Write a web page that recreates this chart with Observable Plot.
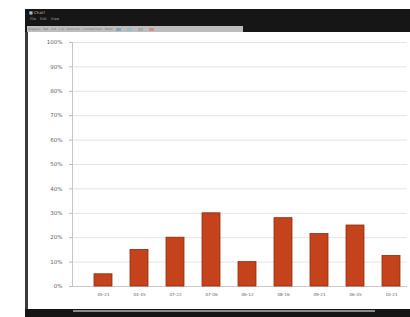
<!DOCTYPE html>
<html><head><meta charset="utf-8">
<script src="https://cdn.jsdelivr.net/npm/d3@7"></script>
<script src="https://cdn.jsdelivr.net/npm/@observablehq/plot@0.6"></script>
<style>
html,body{margin:0;padding:0;width:410px;height:317px;overflow:hidden;background:#fff;font-family:"DejaVu Sans",sans-serif}
#win{position:absolute;left:25px;top:9px;width:385px;height:308px;background:#fff;border-left:3px solid #3a3a3a;box-sizing:border-box}
#titlebar{position:absolute;left:25px;top:9px;width:385px;height:23px;background:#161616}
#title{position:absolute;left:29px;top:10px;font-size:4px;color:#bbb}
#menu{position:absolute;left:30px;top:17px;font-size:3.5px;color:#999;word-spacing:3px}
#tool{position:absolute;left:27px;top:26px;width:216px;height:6px;background:#bdbdbd;font-size:3px;color:#777;line-height:6px;white-space:nowrap;overflow:hidden}
#tool span{display:inline-block;width:5px;height:3px;margin:0 3px;vertical-align:middle}
#bottom{position:absolute;left:25px;top:309px;width:385px;height:8px;background:#151515}
#scroll{position:absolute;left:73px;top:310px;width:302px;height:2px;background:#8a8a8a}
#chart{position:absolute;left:28px;top:32px}
</style></head>
<body>
<div id="win"></div>
<div id="titlebar"></div>
<div id="title">■ Chart</div>
<div id="menu">File Edit View</div>
<div id="tool">&nbsp;Analysis · Bar · 0.0 · 1.0 · Selection · ComboChart · Ratio<span style="background:#7ab"></span><span style="background:#9bc"></span><span style="background:#aaa"></span><span style="background:#d88"></span></div>
<div id="chart"></div>
<div id="bottom"></div>
<div id="scroll"></div>
<script>
const categories = ["05-21","04-45","07-22","07-06","06-12","08-16","09-21","06-45","10-21"];
const values = [0.05, 0.15, 0.20, 0.30, 0.10, 0.28, 0.215, 0.25, 0.125];
const yTicks = [0,0.1,0.2,0.3,0.4,0.5,0.6,0.7,0.8,0.9,1];

const data = categories.map((c, i) => ({cat: c, val: values[i]}));

const chart = Plot.plot({
  width: 379, height: 277,
  marginLeft: 44, marginRight: 0, marginTop: 10, marginBottom: 23,
  style: {background: "transparent", fontFamily: "DejaVu Sans", color: "#666", overflow: "visible"},
  x: {type: "band", domain: categories, paddingInner: 0.49, paddingOuter: 0.35, align: 0.77},
  y: {domain: [0, 1]},
  marks: [
    Plot.gridY(yTicks, {stroke: "#e4e4e4", strokeOpacity: 1}),
    Plot.ruleY([0], {stroke: "#c8c8c8"}),
    Plot.frame({anchor: "left", stroke: "#c4c4c4"}),
    Plot.axisY(yTicks, {tickFormat: d3.format(".0%"), tickSize: 3, tickPadding: 7, fontSize: 5.5, stroke: "#bbb", fill: "#666", label: null}),
    Plot.barY(data, {x: "cat", y: "val", fill: "#c4431c", stroke: "#8f2c0e", strokeWidth: 0.8}),
    Plot.axisX({tickSize: 0, tickPadding: 7, fontSize: 4.2, fill: "#666", label: null})
  ]
});
document.getElementById("chart").appendChild(chart);
</script>
</body></html>
